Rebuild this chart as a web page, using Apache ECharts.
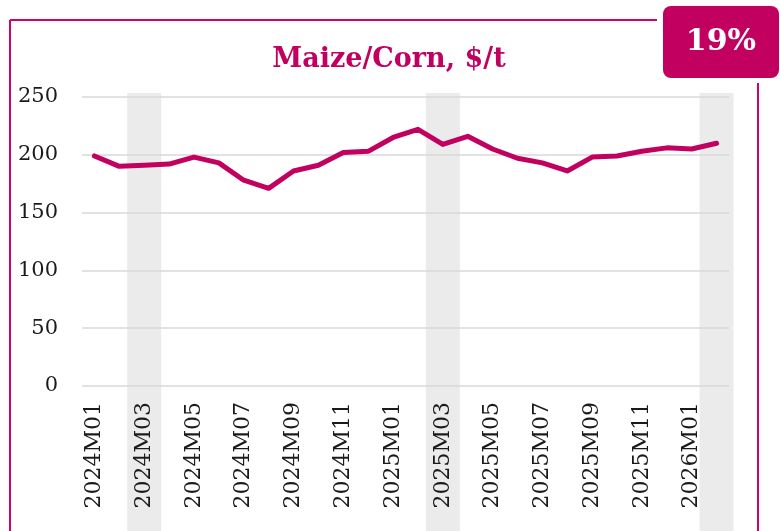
<!DOCTYPE html>
<html><head><meta charset="utf-8">
<script src="https://cdn.jsdelivr.net/npm/echarts@6/dist/echarts.min.js"></script>
<style>html,body{margin:0;padding:0;background:#fff}#c{width:780px;height:531px}</style>
</head><body><div id="c"></div>
<script>
var categories = ['2024M01','2024M02','2024M03','2024M04','2024M05','2024M06','2024M07','2024M08','2024M09','2024M10','2024M11','2024M12',
  '2025M01','2025M02','2025M03','2025M04','2025M05','2025M06','2025M07','2025M08','2025M09','2025M10','2025M11','2025M12','2026M01','2026M02'];
var maizePrice = [199,190,191,192,198,193,178,171,186,191,202,203,215,222,209,216,205,197,193,186,198,199,203,206,205,210];
var shadedMonths = ['2024M03','2025M03','2026M02'];
var yTicks = [0,50,100,150,200,250];
var titleText = 'Maize/Corn, $/t';
var badgeText = '19%';

var magenta = '#C2005F';
var frameColor = '#D0006F';
var font = 'DejaVu Serif';
var bandData = categories.map(function(c){ return shadedMonths.indexOf(c) >= 0 ? 1 : null; });

var chart = echarts.init(document.getElementById('c'), null, {renderer:'canvas'});
chart.setOption({
  animation:false,
  backgroundColor:'#fff',
  title:{text:titleText,left:384,top:41,textAlign:'center',
    textStyle:{color:magenta,fontFamily:font,fontWeight:'bold',fontSize:27}},
  grid:[
    {left:82,right:51,top:93,bottom:0},
    {left:82,right:51,top:97,bottom:145}
  ],
  xAxis:[
    {type:'category',gridIndex:0,data:categories,show:false,boundaryGap:true},
    {type:'category',gridIndex:1,data:categories,boundaryGap:true,z:10,
      axisLine:{show:false},axisTick:{show:false},
      axisLabel:{interval:1,rotate:90,margin:16,color:'#1a1a1a',fontFamily:font,fontSize:22}}
  ],
  yAxis:[
    {type:'value',gridIndex:0,min:0,max:1,show:false},
    {type:'value',gridIndex:1,min:yTicks[0],max:yTicks[yTicks.length-1],interval:50,z:10,
      axisLine:{show:false},axisTick:{show:false},
      axisLabel:{margin:24,color:'#1a1a1a',fontFamily:font,fontSize:21},
      splitLine:{lineStyle:{color:'#d9d9d9',width:1.5}}}
  ],
  series:[
    {type:'bar',xAxisIndex:0,yAxisIndex:0,data:bandData,barWidth:34,clip:false,
      itemStyle:{color:'#ebebeb'},silent:true,z:0},
    {type:'line',xAxisIndex:1,yAxisIndex:1,data:maizePrice,symbol:'none',
      lineStyle:{color:magenta,width:5,cap:'round',join:'round'},z:15}
  ],
  graphic:[
    {type:'line',shape:{x1:10,y1:20,x2:10,y2:531},style:{stroke:frameColor,lineWidth:2},z:20},
    {type:'line',shape:{x1:10,y1:20,x2:657,y2:20},style:{stroke:frameColor,lineWidth:2},z:20},
    {type:'line',shape:{x1:758,y1:83,x2:758,y2:531},style:{stroke:frameColor,lineWidth:2},z:20},
    {type:'rect',shape:{x:663,y:6,width:116,height:72,r:8},style:{fill:magenta},z:20},
    {type:'text',x:721,y:42,style:{text:badgeText,fill:'#fff',font:'bold 30px "DejaVu Serif"',align:'center',verticalAlign:'middle'},z:21}
  ]
});
</script></body></html>
